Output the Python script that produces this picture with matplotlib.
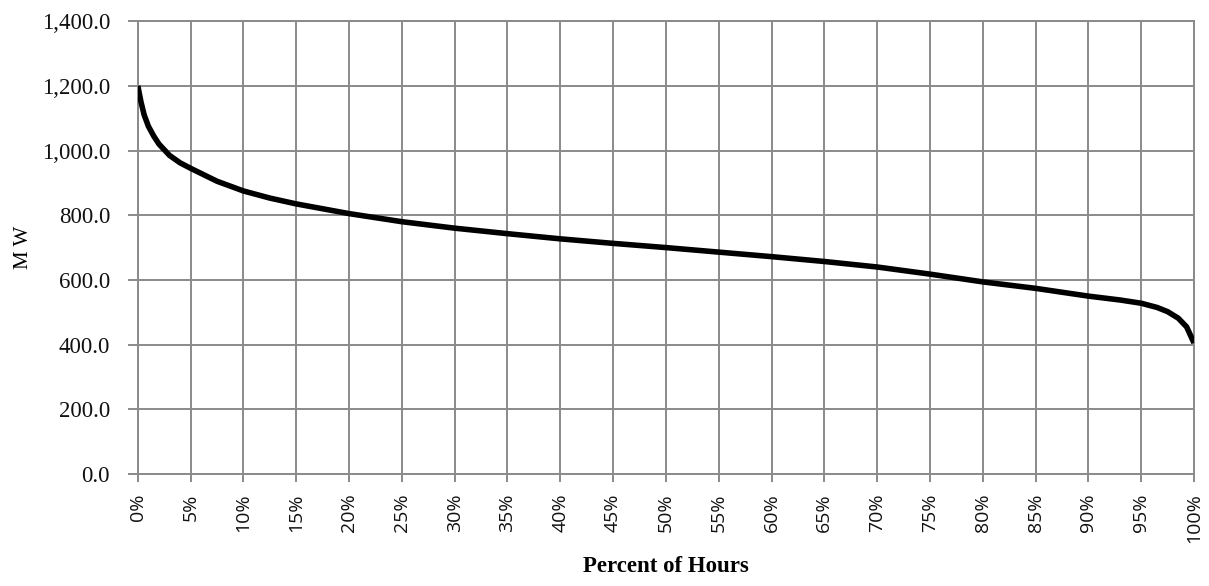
import matplotlib
matplotlib.use("Agg")
import matplotlib.pyplot as plt
from matplotlib.ticker import FuncFormatter, MultipleLocator

# load duration curve: share of hours (%) vs load (MW)
pct_hours = [0, 0.3, 0.6, 1, 1.5, 2, 3, 4, 5, 7.5, 10, 12.5, 15, 20, 25, 30, 35, 40,
             45, 50, 55, 60, 65, 70, 75, 80, 85, 90, 93, 95, 96.5, 97.5, 98.5, 99.3, 100]
load_mw = [1200, 1150, 1110, 1075, 1045, 1020, 985, 962, 945, 905, 875, 853, 835, 805,
           780, 760, 743, 727, 713, 700, 686, 672, 657, 640, 618, 594, 574, 550, 538,
           528, 515, 502, 482, 455, 405]

grid_col = "#8a8a8a"

fig = plt.figure(figsize=(12.09, 5.86), dpi=100)
ax = fig.add_axes([0.114, 0.191, 0.8736, 0.773])

ax.plot(pct_hours, load_mw, color="black", lw=4.0, solid_capstyle="butt", zorder=3)

ax.set_xlim(0, 100)
ax.set_ylim(0, 1400)
ax.xaxis.set_major_locator(MultipleLocator(5))
ax.yaxis.set_major_locator(MultipleLocator(200))
ax.xaxis.set_major_formatter(FuncFormatter(lambda v, p: f"{v:.0f}%"))
ax.yaxis.set_major_formatter(FuncFormatter(lambda v, p: f"{v:,.1f}"))

ax.grid(True, color=grid_col, lw=1.4)
for s in ax.spines.values():
    s.set_color(grid_col)
    s.set_linewidth(1.4)
ax.tick_params(axis="y", colors=grid_col, length=7, width=1.4, pad=13)
ax.tick_params(axis="x", colors=grid_col, length=6, width=1.4, pad=8)

for lbl in ax.get_yticklabels():
    lbl.set_family("Liberation Serif")
    lbl.set_fontsize(16.5)
    lbl.set_color("#111111")
for lbl in ax.get_xticklabels():
    lbl.set_family("Open Sans")
    lbl.set_fontsize(14)
    lbl.set_rotation(90)
    lbl.set_color("#111111")

ax.set_ylabel("M W", family="Liberation Serif", fontsize=15, labelpad=6)
ax.set_xlabel("Percent of Hours", family="Liberation Serif", fontsize=16.5,
              fontweight="bold", labelpad=9)

fig.savefig("out.png", dpi=100, facecolor="white")
